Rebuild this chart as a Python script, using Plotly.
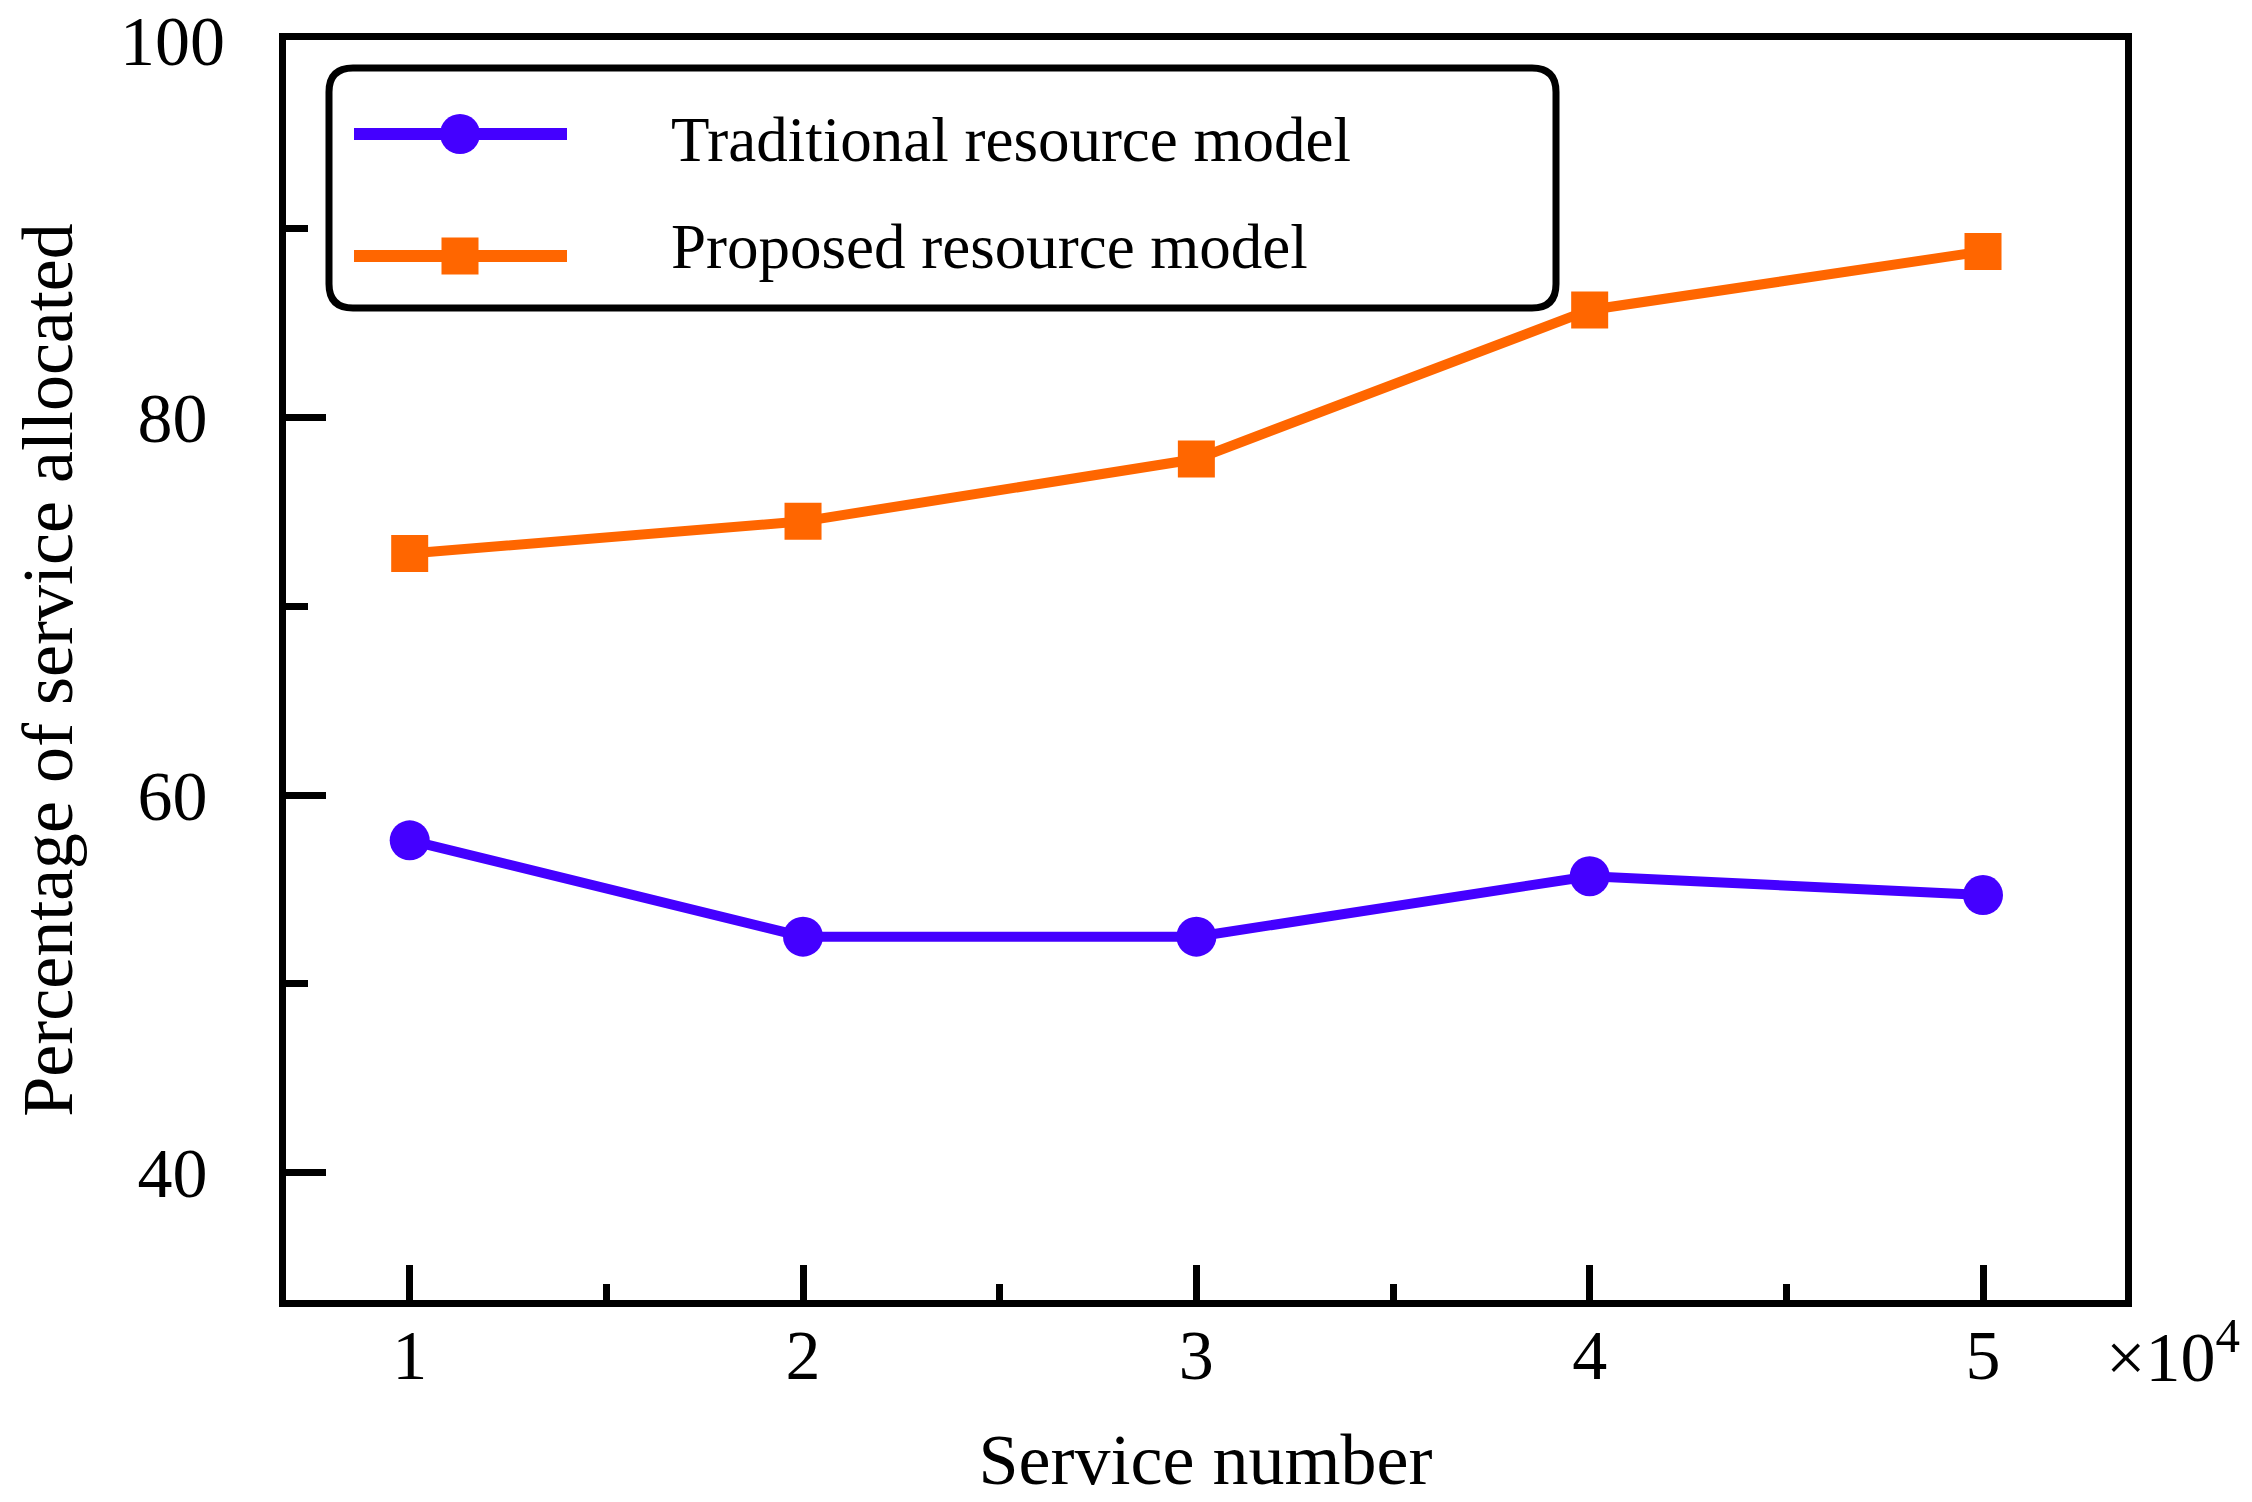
import plotly.graph_objects as go

# ---- data ----
service_number = [1, 2, 3, 4, 5]  # x 10^4
traditional = [57.6, 52.5, 52.5, 55.7, 54.7]
proposed = [72.8, 74.5, 77.8, 85.7, 88.8]
series_names = ["Traditional resource model", "Proposed resource model"]
y_tick_values = [40, 60, 80, 100]
y_tick_labels = ["40\u00a0", "60\u00a0", "80\u00a0", "100"]  # labels look centred in the reference
x_title = "Service number"
y_title = "Percentage of service allocated"
x_exponent_label = "×10<sup>4</sup>"

BLUE = "#4400ff"
ORANGE = "#ff6600"
FONT = "Liberation Serif"

W, H = 2252, 1502
PAGE_OFF = 8  # browser body margin
REF_L, REF_R, REF_T, REF_B = 286, 2125, 40, 1300  # plot frame in the screenshot
PW, PH = REF_R - REF_L, REF_B - REF_T
ML, MT = REF_L - PAGE_OFF, REF_T - PAGE_OFF
MR, MB = W - ML - PW, H - MT - PH


def px2paper_x(px):
    return (px - REF_L) / PW


def px2paper_y(py):
    return (REF_B - py) / PH


fig = go.Figure()
fig.add_trace(go.Scatter(
    x=service_number, y=traditional, name=series_names[0], mode="lines+markers",
    line=dict(color=BLUE, width=10),
    marker=dict(symbol="circle", size=40, color=BLUE, line=dict(width=0)),
    showlegend=False,
))
fig.add_trace(go.Scatter(
    x=service_number, y=proposed, name=series_names[1], mode="lines+markers",
    line=dict(color=ORANGE, width=10),
    marker=dict(symbol="square", size=37, color=ORANGE, line=dict(width=0)),
    showlegend=False,
))

axis_common = dict(
    showline=True, linecolor="black", linewidth=7, mirror=True,
    showgrid=False, zeroline=False,
    ticks="inside", tickcolor="black", tickwidth=7,
    tickfont=dict(family=FONT, size=70, color="black"),
    ticklabeloverflow="allow",
)

fig.update_xaxes(
    range=[0.6855, 5.361], tick0=0, dtick=1, ticklen=35,
    ticklabelstandoff=-12,
    minor=dict(ticks="inside", tick0=0, dtick=0.5, ticklen=16, tickwidth=7,
               tickcolor="black", showgrid=False),
    title=dict(text=x_title, font=dict(family=FONT, size=72, color="black"), standoff=43),
    **axis_common,
)
fig.update_yaxes(
    range=[33.25, 100.0], tickmode="array", tickvals=y_tick_values, ticktext=y_tick_labels,
    ticklen=40,
    ticklabelstandoff=40,
    minor=dict(ticks="inside", tick0=0, dtick=10, ticklen=22, tickwidth=7,
               tickcolor="black", showgrid=False),
    title=dict(text=y_title, font=dict(family=FONT, size=72, color="black"), standoff=60),
    **axis_common,
)

# ---- legend drawn as decoration (large symbols like the reference) ----
bx0, bx1 = px2paper_x(329), px2paper_x(1556)
by0, by1 = px2paper_y(308), px2paper_y(68)
rx, ry = 24 / PW, 24 / PH
path = (
    f"M {bx0+rx},{by1} L {bx1-rx},{by1} Q {bx1},{by1} {bx1},{by1-ry} "
    f"L {bx1},{by0+ry} Q {bx1},{by0} {bx1-rx},{by0} "
    f"L {bx0+rx},{by0} Q {bx0},{by0} {bx0},{by0+ry} "
    f"L {bx0},{by1-ry} Q {bx0},{by1} {bx0+rx},{by1} Z"
)
shapes = [dict(type="path", path=path, xref="paper", yref="paper",
               line=dict(color="black", width=7), fillcolor="white")]

rows = [
    (134, 140, BLUE, "circle", 20),
    (256, 247, ORANGE, "rect", 18.5),
]
annotations = []
for (sym_y, txt_y, color, kind, half), name in zip(rows, series_names):
    yy = px2paper_y(sym_y)
    shapes.append(dict(type="line", xref="paper", yref="paper",
                       x0=px2paper_x(354), x1=px2paper_x(567), y0=yy, y1=yy,
                       line=dict(color=color, width=12)))
    shapes.append(dict(type=kind, xref="paper", yref="paper",
                       xsizemode="pixel", ysizemode="pixel",
                       xanchor=px2paper_x(460), yanchor=yy,
                       x0=-half, x1=half, y0=-half, y1=half,
                       fillcolor=color, line=dict(width=0)))
    annotations.append(dict(text=name, xref="paper", yref="paper",
                            x=px2paper_x(669), y=px2paper_y(txt_y),
                            xanchor="left", yanchor="middle", showarrow=False,
                            font=dict(family=FONT, size=63, color="black")))

annotations.append(dict(text=x_exponent_label, xref="paper", yref="paper",
                        x=px2paper_x(2104), y=px2paper_y(1352),
                        xanchor="left", yanchor="middle", showarrow=False,
                        font=dict(family=FONT, size=70, color="black")))

fig.update_layout(
    width=W, height=H,
    margin=dict(l=ML, r=MR, t=MT, b=MB, autoexpand=False),
    paper_bgcolor="white", plot_bgcolor="white",
    font=dict(family=FONT, color="black"),
    shapes=shapes, annotations=annotations,
    showlegend=False,
)

fig.write_html("out.html")
